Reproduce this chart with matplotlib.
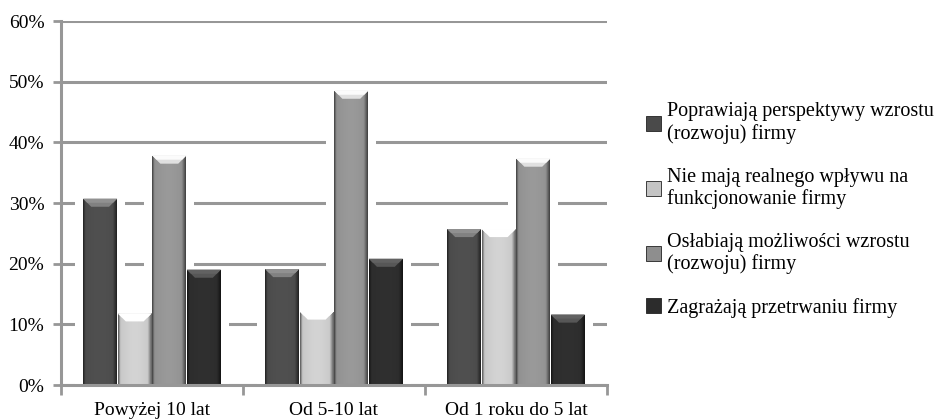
import numpy as np
import matplotlib
matplotlib.use('Agg')
import matplotlib.pyplot as plt
from matplotlib.patches import Polygon, Patch
from matplotlib.colors import to_rgb

categories = ['Powyżej 10 lat', 'Od 5-10 lat', 'Od 1 roku do 5 lat']
labels = ['Poprawiają perspektywy wzrostu\n(rozwoju) firmy',
          'Nie mają realnego wpływu na\nfunkcjonowanie firmy',
          'Osłabiają możliwości wzrostu\n(rozwoju) firmy',
          'Zagrażają przetrwaniu firmy']
poprawiaja = [30.7, 19.1, 25.7]
bez_wplywu = [11.8, 12.1, 25.7]
oslabiaja = [37.8, 48.5, 37.3]
zagrazaja = [19.0, 20.8, 11.6]
colors = ['#4a4a4a', '#c4c4c4', '#8e8e8e', '#2c2c2c']

series = [poprawiaja, bez_wplywu, oslabiaja, zagrazaja]
grey = '#979797'
matplotlib.rc('font', family='Liberation Serif', size=14)

fig = plt.figure(figsize=(9.45, 4.2), dpi=100)
ax = fig.add_axes([61/945, 35/420, 546/945, 364/420])
ax.set_xlim(-0.5, 2.5)
ax.set_ylim(0, 60)

ind = np.arange(len(categories))
width = 0.186
px_x = 3.0 / 546    # data units per pixel
px_y = 60.0 / 364


def shade_bar(rect, color):
    # side shading plus a bevelled top face
    x0, y0 = rect.get_x(), rect.get_y()
    w, h = rect.get_width(), rect.get_height()
    t = np.linspace(0, 1, 80)
    prof = np.clip(np.minimum(t / 0.07, (1 - t) / 0.12), 0, 1)
    k = 0.45 + 0.55 * prof + 0.08 * np.sin(np.pi * t)
    rgb = np.clip(np.outer(np.ones(2), k)[..., None] * np.array(to_rgb(color)), 0, 1)
    im = ax.imshow(rgb, extent=(x0, x0 + w, y0, y0 + h), aspect='auto',
                   interpolation='bilinear', zorder=3)
    im.set_clip_path(rect)
    dx, dy = 8 * px_x, 8 * px_y
    top = y0 + h
    base = np.array(to_rgb(color))
    lite = np.clip(base * 1.4 + 0.1, 0, 1)
    ax.add_patch(Polygon([(x0, top), (x0 + w, top), (x0 + w - dx, top - dy), (x0 + dx, top - dy)],
                         closed=True, facecolor=lite, edgecolor='none', zorder=4))
    ax.add_patch(Polygon([(x0, top), (x0 + w, top), (x0 + w - dx * 0.5, top - dy * 0.5), (x0 + dx * 0.5, top - dy * 0.5)],
                         closed=True, facecolor=np.clip(lite * 1.12, 0, 1), edgecolor='none', zorder=4))


for i, (vals, col) in enumerate(zip(series, colors)):
    pos = ind + (i - 1.5) * (width + 0.004)
    # white band beside each bar that cuts the gridlines
    ax.bar(pos, vals, width + 16 * px_x, color='white', linewidth=0, zorder=2)
    bars = ax.bar(pos, vals, width, color=col, edgecolor='white', linewidth=0.8, zorder=3)
    for r in bars:
        shade_bar(r, col)

ax.set_yticks(np.arange(0, 61, 10))
ax.set_yticklabels(['%d%%' % v for v in range(0, 61, 10)])
ax.yaxis.grid(True, color=grey, linewidth=2.2, zorder=1)
ax.set_axisbelow(True)

ax.set_xticks(ind)
ax.set_xticklabels(categories)
ax.set_xticks([-0.5, 0.5, 1.5, 2.5], minor=True)
ax.tick_params(axis='x', which='major', length=0, pad=12)
ax.tick_params(axis='x', which='minor', length=7, width=2, color=grey, direction='out')
ax.tick_params(axis='y', length=6, width=2, color=grey, pad=6)

for s in ['top', 'right']:
    ax.spines[s].set_visible(False)
for s in ['left', 'bottom']:
    ax.spines[s].set_color(grey)
    ax.spines[s].set_linewidth(2.2)
    ax.spines[s].set_zorder(5)

handles = [Patch(facecolor=c, edgecolor='#222222', linewidth=0.6) for c in colors]
ax.legend(handles, labels, loc='center left', bbox_to_anchor=(636/945, 0.5),
          bbox_transform=fig.transFigure, frameon=False, fontsize=14.5,
          handlelength=0.75, handleheight=0.75, handletextpad=0.3,
          labelspacing=1.15, borderpad=0)

fig.savefig('out.png', dpi=100)
